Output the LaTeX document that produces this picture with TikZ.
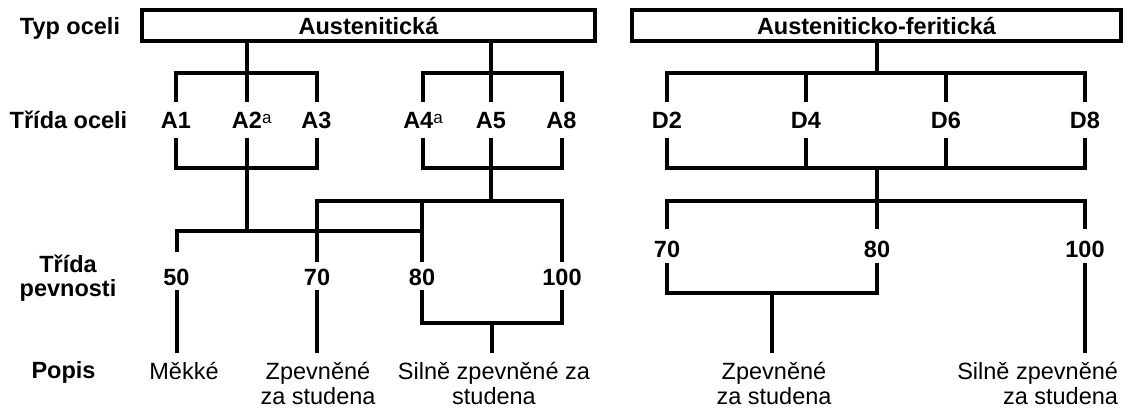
\documentclass[tikz,border=0pt]{standalone}
\usepackage{fontspec}
\setmainfont{Liberation Sans}
\newcommand{\myexp}{\raisebox{4.5pt}{\fontsize{17}{17}\selectfont\mdseries a}}
\begin{document}
\begin{tikzpicture}[x=1pt,y=-1pt,line width=4pt,
  lbl/.style={font=\bfseries\fontsize{23.5}{24}\selectfont, inner sep=0pt, outer sep=0pt},
  cls/.style={lbl, anchor=base, text height=26pt, text depth=10pt},
  numl/.style={lbl, anchor=base, text height=23pt, text depth=5pt},
  numr/.style={lbl, anchor=base, text height=28pt, text depth=6pt},
  desc/.style={font=\fontsize{23.5}{25}\selectfont, anchor=north, inner xsep=0pt, inner ysep=9pt, outer sep=0pt, align=center},
  box/.style={draw, lbl, minimum height=31pt}
]
\useasboundingbox (0,0) rectangle (1132,410);

% row labels
\node[lbl, anchor=base] (typ) at (70,34) {Typ oceli};
\node[lbl, anchor=base] (tro) at (68.5,128) {Třída oceli};
\node[lbl, align=center] (trp) at (68,278) {Třída\\pevnosti};
\node[lbl, anchor=base] (pop) at (63.5,378) {Popis};

% type boxes
\node[box, minimum width=453pt] (aust) at (368.5,25.5) {Austenitická};
\node[box, minimum width=489pt] (austfer) at (876.5,25.5) {Austeniticko-feritická};

% steel classes
\node[cls] (A1) at (176,128) {A1};
\node[cls] (A2) at (247,128) {A2\rlap{\myexp}};
\node[cls] (A3) at (316.5,128) {A3};
\node[cls] (A4) at (423,128) {A4\myexp};
\node[cls] (A5) at (491,128) {A5};
\node[cls] (A8) at (561.5,128) {A8};
\node[cls] (D2) at (667,128) {D2};
\node[cls] (D4) at (806,128) {D4};
\node[cls] (D6) at (946,128) {D6};
\node[cls] (D8) at (1085,128) {D8};

% strength classes
\node[numl, text height=33pt] (n50) at (176.5,285) {50};
\node[numl] (n70) at (317,285) {70};
\node[numl] (n80) at (422,285) {80};
\node[numl] (n100) at (562,285) {100};
\node[numr] (r70) at (667,257) {70};
\node[numr] (r80) at (877,257) {80};
\node[numr] (r100) at (1085,257) {100};

% descriptions
\node[desc] (dM) at (184,353) {Měkké};
\node[desc] (dZ) at (318,353) {Zpevněné\\za studena};
\node[desc] (dS) at (494,353) {Silně zpevněné za\\studena};
\node[desc] (dZr) at (774,353) {Zpevněné\\za studena};
\node[desc, anchor=north east, align=right] (dSr) at (1118,353) {Silně zpevněné\\za studena};

% junctions
\coordinate (tA) at (247,73);
\coordinate (tB) at (491,73);
\coordinate (tD) at (877,73);
\coordinate (bA) at (247,168);
\coordinate (bB) at (491,168);
\coordinate (bD) at (877,168);
\coordinate (mA) at (247,231);
\coordinate (mB) at (491,201);
\coordinate (mD) at (877,201);
\coordinate (cB) at (492,323);
\coordinate (cD) at (772,293);

% Austenitic tree
\draw (aust.south -| tA) -- (tA);
\draw (A1.north) -- (A1.north |- tA) -- (A3.north |- tA) -- (A3.north);
\draw (tA) -- (A2.north);
\draw (A1.south) -- (A1.south |- bA) -- (A3.south |- bA) -- (A3.south);
\draw (A2.south) -- (bA) -- (mA);

\draw (aust.south -| tB) -- (tB);
\draw (A4.north) -- (A4.north |- tB) -- (A8.north |- tB) -- (A8.north);
\draw (tB) -- (A5.north);
\draw (A4.south) -- (A4.south |- bB) -- (A8.south |- bB) -- (A8.south);
\draw (A5.south) -- (bB) -- (mB);

\draw (n50.north) -- (n50.north |- mA) -- (n80.north |- mA);
\draw (n70.north) -- (n70.north |- mB) -- (n100.north |- mB) -- (n100.north);
\draw (n80.north) -- (n80.north |- mB);

\draw (n50.south) -- (n50.south |- dM.north);
\draw (n70.south) -- (n70.south |- dZ.north);
\draw (n80.south) -- (n80.south |- cB) -- (n100.south |- cB) -- (n100.south);
\draw (cB) -- (cB |- dS.north);

% Austenitic-ferritic tree
\draw (austfer.south -| tD) -- (tD);
\draw (D2.north) -- (D2.north |- tD) -- (D8.north |- tD) -- (D8.north);
\draw (D4.north) -- (D4.north |- tD);
\draw (D6.north) -- (D6.north |- tD);
\draw (D2.south) -- (D2.south |- bD) -- (D8.south |- bD) -- (D8.south);
\draw (D4.south) -- (D4.south |- bD);
\draw (D6.south) -- (D6.south |- bD);
\draw (bD) -- (mD);
\draw (r70.north) -- (r70.north |- mD) -- (r100.north |- mD) -- (r100.north);
\draw (mD) -- (r80.north);

\draw (r70.south) -- (r70.south |- cD) -- (r80.south |- cD) -- (r80.south);
\draw (cD) -- (cD |- dZr.north);
\draw (r100.south) -- (r100.south |- dSr.north);
\end{tikzpicture}
\end{document}
